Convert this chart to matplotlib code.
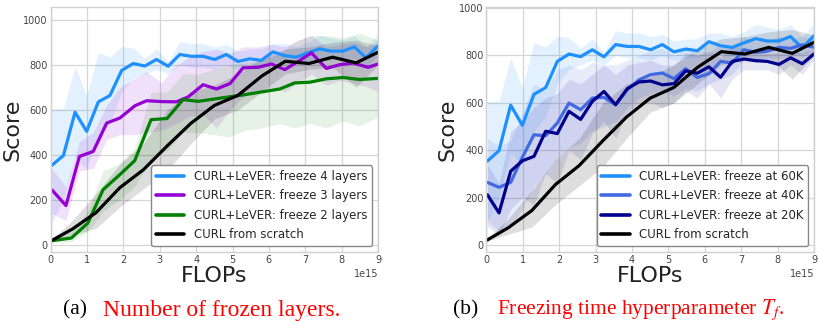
import numpy as np
import matplotlib.pyplot as plt

# FLOPs in units of 1e15
x_f4 = [0.03, 0.35, 0.67, 0.99, 1.31, 1.63, 1.95, 2.27, 2.59, 2.91, 3.23, 3.55, 3.87, 4.19, 4.51,
        4.83, 5.15, 5.47, 5.79, 6.11, 6.43, 6.75, 7.07, 7.39, 7.71, 8.03, 8.35, 8.67, 8.99]
f4_mean = [354, 398, 590, 505, 636, 664, 775, 806, 795, 824, 794, 846, 838, 838, 824,
           846, 815, 827, 820, 858, 841, 834, 853, 871, 861, 861, 880, 831, 883]
f4_low = [100, 200, 390, 340, 480, 540, 680, 740, 760, 780, 760, 800, 790, 790, 780,
          800, 780, 790, 790, 810, 800, 800, 810, 820, 820, 820, 830, 790, 840]
f4_high = [605, 607, 790, 665, 855, 835, 882, 875, 830, 870, 815, 905, 895, 895, 880,
           890, 860, 870, 870, 895, 895, 880, 900, 930, 920, 910, 930, 880, 935]

x_f3 = [0.03, 0.42, 0.79, 1.17, 1.54, 1.9, 2.32, 2.64, 3.05, 3.46, 3.78, 4.19, 4.56, 4.93,
        5.29, 5.7, 6.07, 6.44, 6.8, 7.17, 7.58, 7.95, 8.32, 8.73, 9.0]
f3_mean = [246, 176, 394, 416, 542, 564, 619, 641, 637, 636, 658, 712, 693, 717,
           787, 789, 804, 779, 815, 853, 784, 801, 808, 789, 804]
f3_low = [140, 110, 330, 340, 470, 490, 490, 500, 510, 540, 570, 580, 520, 600,
          660, 680, 700, 680, 720, 760, 710, 730, 720, 700, 680]
f3_high = [340, 260, 460, 500, 620, 700, 740, 770, 720, 800, 830, 860, 870, 850,
           880, 880, 890, 880, 910, 930, 880, 890, 900, 880, 910]

x_f2 = [0.02, 0.57, 1.02, 1.44, 1.88, 2.31, 2.76, 3.2, 3.64, 4.05, 4.48, 4.9, 5.35, 5.8,
        6.3, 6.71, 7.12, 7.58, 8.04, 8.5, 9.0]
f2_mean = [20, 32, 98, 246, 310, 375, 557, 562, 646, 638, 648, 658, 668, 680,
           693, 720, 723, 738, 744, 735, 740]
f2_low = [15, 15, 60, 150, 200, 260, 380, 420, 500, 500, 490, 480, 510, 520,
          540, 520, 540, 520, 550, 530, 570]
f2_high = [25, 60, 150, 330, 360, 430, 680, 680, 760, 760, 780, 800, 810, 820,
           850, 900, 930, 930, 920, 940, 910]

x_scratch = [0.02, 0.6, 1.25, 1.9, 2.55, 3.2, 3.85, 4.5, 5.15, 5.8, 6.45, 7.1, 7.75, 8.4, 9.0]
scratch_mean = [20, 72, 145, 255, 335, 440, 540, 620, 665, 750, 816, 806, 834, 809, 856]
scratch_low = [15, 45, 75, 170, 250, 330, 450, 560, 600, 680, 760, 780, 790, 700, 800]
scratch_high = [25, 110, 230, 360, 450, 600, 680, 710, 760, 830, 870, 880, 900, 910, 885]

# freeze time runs share the step grid of the 4-layer run
t40_mean = [264, 243, 264, 370, 465, 461, 515, 599, 571, 620, 623, 592, 655, 697, 719,
            726, 702, 744, 707, 723, 775, 768, 824, 813, 818, 834, 830, 845, 835]
t40_low = [100, 60, 80, 150, 250, 300, 370, 410, 430, 480, 500, 520, 580, 620, 640,
           650, 630, 660, 650, 680, 700, 720, 780, 770, 780, 790, 790, 810, 800]
t40_high = [450, 420, 440, 560, 680, 650, 740, 760, 740, 770, 760, 760, 780, 800, 820,
            830, 800, 830, 800, 810, 850, 840, 880, 860, 860, 880, 870, 880, 870]

t20_mean = [212, 135, 311, 355, 374, 480, 470, 564, 530, 606, 648, 592, 660, 688, 692,
            676, 681, 735, 725, 752, 708, 775, 785, 778, 775, 762, 790, 765, 806]
t20_low = [80, 40, 150, 200, 170, 300, 260, 400, 360, 470, 520, 450, 560, 600, 600,
           580, 600, 650, 620, 680, 620, 700, 740, 740, 740, 720, 760, 720, 780]
t20_high = [340, 260, 480, 520, 580, 620, 640, 700, 680, 720, 760, 720, 760, 770, 780,
            760, 760, 810, 800, 820, 790, 840, 830, 820, 810, 810, 820, 810, 830]

plt.style.use('seaborn-v0_8-whitegrid')
plt.rcParams['font.family'] = ['DejaVu Sans']
plt.rcParams['mathtext.fontset'] = 'stix'

fig = plt.figure(figsize=(8.2, 3.21), dpi=100)
ax1 = fig.add_axes([0.0618, 0.215, 0.3992, 0.762])
ax2 = fig.add_axes([0.593, 0.215, 0.400, 0.762])


def draw(ax, x, mean, low, high, color, label, alpha=0.12):
    xs = np.array(x) * 1e15
    ax.fill_between(xs, low, high, color=color, alpha=alpha, linewidth=0)
    ax.plot(xs, mean, color=color, lw=2.3, label=label)


draw(ax1, x_f4, f4_mean, f4_low, f4_high, '#1E90FF', 'CURL+LeVER: freeze 4 layers')
draw(ax1, x_f3, f3_mean, f3_low, f3_high, '#9400D3', 'CURL+LeVER: freeze 3 layers')
draw(ax1, x_f2, f2_mean, f2_low, f2_high, '#008000', 'CURL+LeVER: freeze 2 layers', 0.1)
draw(ax1, x_scratch, scratch_mean, scratch_low, scratch_high, 'black', 'CURL from scratch', 0.13)

draw(ax2, x_f4, f4_mean, f4_low, f4_high, '#1E90FF', 'CURL+LeVER: freeze at 60K')
draw(ax2, x_f4, t40_mean, t40_low, t40_high, '#4169E1', 'CURL+LeVER: freeze at 40K')
draw(ax2, x_f4, t20_mean, t20_low, t20_high, '#00008B', 'CURL+LeVER: freeze at 20K', 0.1)
draw(ax2, x_scratch, scratch_mean, scratch_low, scratch_high, 'black', 'CURL from scratch', 0.13)

for ax, top in [(ax1, 1055), (ax2, 1003)]:
    ax.set_xlim(0, 9e15)
    ax.set_ylim(-30, top)
    ax.set_xticks(np.arange(0, 10) * 1e15)
    ax.set_yticks([0, 200, 400, 600, 800, 1000])
    ax.tick_params(labelsize=7, labelcolor='#444444', pad=2)
    ax.xaxis.get_offset_text().set_fontsize(7)
    ax.xaxis.get_offset_text().set_color('#444444')
    ax.set_xlabel('FLOPs', fontsize=16, labelpad=1, color='#222222')
    ax.set_ylabel('Score', fontsize=16, labelpad=1, color='#222222')
    for sp in ax.spines.values():
        sp.set_visible(True)
        sp.set_color('#d0d0d0')
    ax.grid(color='#d6d6d6', lw=0.9)
    leg = ax.legend(loc='lower right', fontsize=8.5, frameon=True, framealpha=1,
                    handlelength=2.4, borderaxespad=0.5, labelspacing=0.55)
    leg.get_frame().set_edgecolor('#888888')
    for h in leg.get_lines():
        h.set_linewidth(2.6)

fig.text(0.106, 0.034, '(a)', ha='right', va='center', color='black',
         fontsize=15.5, family='Liberation Serif')
fig.text(0.1256, 0.034, 'Number of frozen layers.', ha='left', va='center', color='red',
         fontsize=17, family='Liberation Serif')
fig.text(0.583, 0.034, '(b)', ha='right', va='center', color='black',
         fontsize=15.5, family='Liberation Serif')
fig.text(0.606, 0.034, 'Freezing time hyperparameter $T_f$.', ha='left', va='center',
         color='red', fontsize=15.5, family='Liberation Serif')

fig.savefig('out.png', dpi=100)
